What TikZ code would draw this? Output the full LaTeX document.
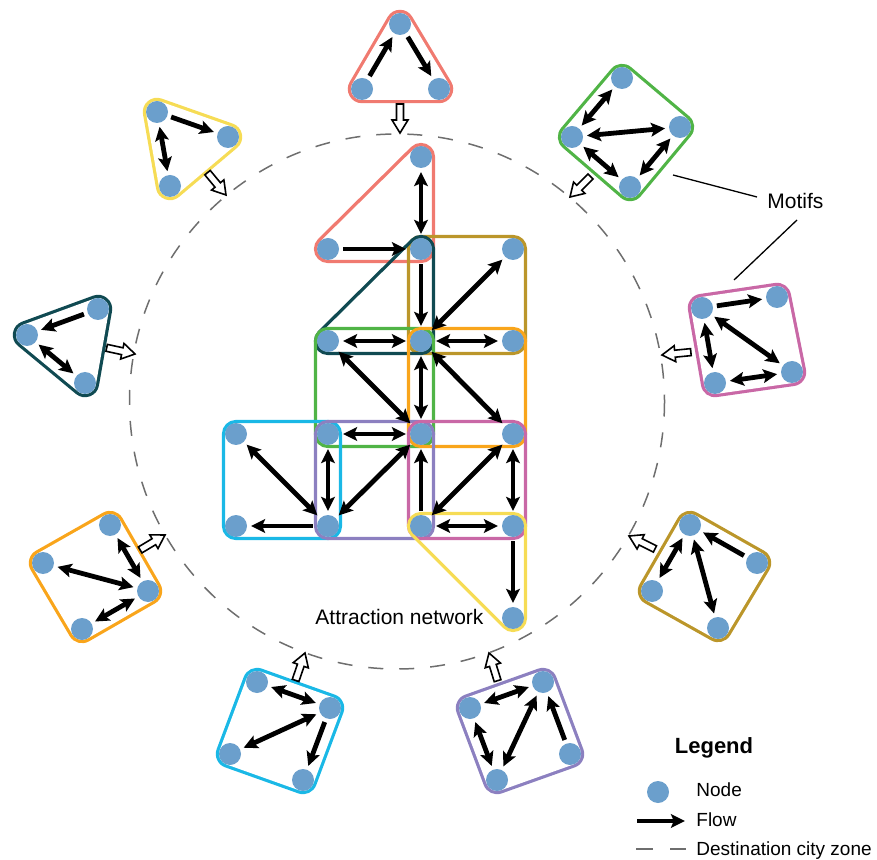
\documentclass[tikz,border=0pt]{standalone}
\usepackage{fontspec}
\setmainfont{Liberation Sans}
\usetikzlibrary{arrows.meta,calc}

\definecolor{nodeblue}{RGB}{107,159,204}
\definecolor{cRed}{RGB}{240,122,112}
\definecolor{cYellow}{RGB}{246,220,85}
\definecolor{cTeal}{RGB}{16,74,82}
\definecolor{cGreen}{RGB}{80,180,70}
\definecolor{cPink}{RGB}{201,104,166}
\definecolor{cOlive}{RGB}{187,150,42}
\definecolor{cOrange}{RGB}{249,165,27}
\definecolor{cCyan}{RGB}{26,184,230}
\definecolor{cPurple}{RGB}{140,128,192}
\definecolor{dashgray}{RGB}{110,110,110}

\pgfdeclarelayer{background}
\pgfsetlayers{background,main}

% rounded ring around a convex group of nodes (stand-alone motifs)
\newcommand\motifring[2]{%
  \draw[#1, line width=14.2pt, line join=round] #2;
  \draw[white, fill=white, line width=11pt, line join=round] #2;}

\def\rr{12.5}
\def\dd{8.84}

\begin{document}
\begin{tikzpicture}[x=0.5pt,y=-0.5pt,
  >={Stealth[length=7pt,width=6.8pt,inset=1.4pt]},
  vertex/.style={circle, fill=nodeblue, minimum size=11pt, inner sep=0pt, outer sep=0pt},
  flow/.style={line width=2.4pt, ->, shorten >=2pt, shorten <=2pt},
  biflow/.style={flow, <->},
  boxline/.style={line width=1.6pt, line join=round},
  label/.style={inner sep=0pt, font=\fontsize{10.5}{12}\selectfont},
  legitem/.style={inner sep=0pt, anchor=base west, font=\fontsize{9.5}{11}\selectfont},
  zone/.style={dashgray, line width=0.75pt},
  hollowarrow/.pic={\draw[line width=0.8pt, fill=white, line join=miter]
     (0,0) -- (-13,-8) -- (-13,-3.5) -- (-29,-3.5) -- (-29,3.5) -- (-13,3.5) -- (-13,8) -- cycle;}
]
\useasboundingbox (0,0) rectangle (877,860);

% ---------- attraction network ----------
\node[vertex] (A) at (421,157) {};
\node[vertex] (B) at (328,249) {};
\node[vertex] (C) at (421,249) {};
\node[vertex] (D) at (513,249) {};
\node[vertex] (E) at (328,341) {};
\node[vertex] (F) at (421,341) {};
\node[vertex] (G) at (513,341) {};
\node[vertex] (H) at (236,434) {};
\node[vertex] (I) at (328,434) {};
\node[vertex] (J) at (421,434) {};
\node[vertex] (K) at (513,434) {};
\node[vertex] (L) at (236,526) {};
\node[vertex] (M) at (328,526) {};
\node[vertex] (N) at (421,526) {};
\node[vertex] (O) at (513,526) {};
\node[vertex] (P) at (513,618) {};

\draw[biflow] (A) -- (C);
\draw[flow] (B) -- (C);
\draw[flow] (C) -- (F);
\draw[biflow] (D) -- (F);
\draw[biflow] (E) -- (F);
\draw[biflow] (F) -- (G);
\draw[biflow] (E) -- (J);
\draw[biflow] (F) -- (J);
\draw[biflow] (F) -- (K);
\draw[biflow] (I) -- (J);
\draw[biflow] (H) -- (M);
\draw[biflow] (I) -- (M);
\draw[flow] (M) -- (L);
\draw[biflow] (J) -- (M);
\draw[flow] (N) -- (J);
\draw[biflow] (N) -- (K);
\draw[biflow] (K) -- (O);
\draw[biflow] (N) -- (O);
\draw[flow] (O) -- (P);

\node[label, anchor=base west] (attr) at (315,624) {Attraction network};

% ---------- motifs around the zone ----------
% top triangle
\node[vertex] (r1) at (400,24) {};
\node[vertex] (r2) at (362,89) {};
\node[vertex] (r3) at (439,89) {};
\draw[flow] (r2) -- (r1);
\draw[flow] (r1) -- (r3);
% upper-left triangle
\node[vertex] (y1) at (157,112) {};
\node[vertex] (y2) at (228,137) {};
\node[vertex] (y3) at (170,186) {};
\draw[flow] (y1) -- (y2);
\draw[biflow] (y1) -- (y3);
% left triangle
\node[vertex] (t1) at (98,309) {};
\node[vertex] (t2) at (27,335) {};
\node[vertex] (t3) at (85,383) {};
\draw[flow] (t1) -- (t2);
\draw[biflow] (t2) -- (t3);
% upper-right square
\node[vertex] (g1) at (622,78) {};
\node[vertex] (g2) at (680,127) {};
\node[vertex] (g3) at (630,187) {};
\node[vertex] (g4) at (572,137) {};
\draw[biflow] (g1) -- (g4);
\draw[biflow] (g4) -- (g2);
\draw[biflow] (g4) -- (g3);
\draw[biflow] (g2) -- (g3);
% right square
\node[vertex] (p1) at (702,308) {};
\node[vertex] (p2) at (777,297) {};
\node[vertex] (p3) at (792,372) {};
\node[vertex] (p4) at (715,383) {};
\draw[flow] (p1) -- (p2);
\draw[biflow] (p1) -- (p3);
\draw[biflow] (p1) -- (p4);
\draw[biflow] (p4) -- (p3);
% lower-left square
\node[vertex] (o1) at (110,525) {};
\node[vertex] (o2) at (148,591) {};
\node[vertex] (o3) at (82,629) {};
\node[vertex] (o4) at (43,563) {};
\draw[biflow] (o1) -- (o2);
\draw[biflow] (o4) -- (o2);
\draw[biflow] (o3) -- (o2);
% bottom-left square
\node[vertex] (c1) at (257,682) {};
\node[vertex] (c2) at (330,708) {};
\node[vertex] (c3) at (303,780) {};
\node[vertex] (c4) at (230,754) {};
\draw[biflow] (c1) -- (c2);
\draw[biflow] (c2) -- (c4);
\draw[flow] (c2) -- (c3);
% lower-right square
\node[vertex] (v1) at (690,525) {};
\node[vertex] (v2) at (757,563) {};
\node[vertex] (v3) at (718,628) {};
\node[vertex] (v4) at (652,591) {};
\draw[flow] (v2) -- (v1);
\draw[biflow] (v1) -- (v4);
\draw[biflow] (v1) -- (v3);
% bottom-right square
\node[vertex] (u1) at (543,682) {};
\node[vertex] (u2) at (570,754) {};
\node[vertex] (u3) at (497,780) {};
\node[vertex] (u4) at (470,708) {};
\draw[biflow] (u4) -- (u1);
\draw[biflow] (u4) -- (u3);
\draw[biflow] (u3) -- (u1);
\draw[flow] (u2) -- (u1);

% hollow arrows pointing at the zone boundary
\pic[rotate=-90] at (400,133) {hollowarrow};
\pic[rotate=-50.4] at (226,195) {hollowarrow};
\pic[rotate=-12.3] at (135,354) {hollowarrow};
\pic[rotate=-135] at (570,197) {hollowarrow};
\pic[rotate=-174.3] at (662,355) {hollowarrow};
\pic[rotate=31] at (165,535) {hollowarrow};
\pic[rotate=71] at (305,653) {hollowarrow};
\pic[rotate=153.4] at (629,536) {hollowarrow};
\pic[rotate=107.2] at (489,653) {hollowarrow};

% Motifs label
\node[label, anchor=base west] (motifs) at (767,209) {Motifs};
\coordinate (ma) at (673,175);
\coordinate (mb) at (757,197);
\coordinate (mc) at (797,220);
\coordinate (md) at (734,280);
\draw[line width=0.65pt] (ma) -- (mb);
\draw[line width=0.65pt] (mc) -- (md);

% ---------- legend ----------
\node[inner sep=0pt, anchor=base, font=\fontsize{11}{13}\selectfont\bfseries] (legend) at (714,753) {Legend};
\node[vertex] (legnode) at (658,792) {};
\node[legitem] (lnode) at (696,796.5) {Node};
\coordinate (fa) at (637,821);
\coordinate (fb) at (685,821);
\draw[line width=2.4pt, ->] (fa) -- (fb);
\node[legitem] (lflow) at (696,826) {Flow};
\coordinate (da) at (636,849);
\coordinate (db) at (686,849);
\draw[zone, dash pattern=on 8.5pt off 8.5pt] (da) -- (db);
\node[legitem] (lzone) at (696,855) {Destination city zone};

% ---------- outlines behind everything ----------
\begin{pgfonlayer}{background}
  \draw[zone, dash pattern=on 7.5pt off 8pt] (397,401.5) circle[radius=267.5];

  \motifring{cRed}{(r1.center) -- (r3.center) -- (r2.center) -- cycle}
  \motifring{cYellow}{(y1.center) -- (y2.center) -- (y3.center) -- cycle}
  \motifring{cTeal}{(t1.center) -- (t3.center) -- (t2.center) -- cycle}
  \motifring{cGreen}{(g1.center) -- (g2.center) -- (g3.center) -- (g4.center) -- cycle}
  \motifring{cPink}{(p1.center) -- (p2.center) -- (p3.center) -- (p4.center) -- cycle}
  \motifring{cOrange}{(o1.center) -- (o2.center) -- (o3.center) -- (o4.center) -- cycle}
  \motifring{cCyan}{(c1.center) -- (c2.center) -- (c3.center) -- (c4.center) -- cycle}
  \motifring{cOlive}{(v1.center) -- (v2.center) -- (v3.center) -- (v4.center) -- cycle}
  \motifring{cPurple}{(u1.center) -- (u2.center) -- (u3.center) -- (u4.center) -- cycle}

  % groups inside the attraction network
  \draw[boxline, cRed] ($(A)+(\rr,0)$) -- ($(C)+(\rr,0)$) arc[start angle=0,end angle=90,radius=\rr]
     -- ($(B)+(0,\rr)$) arc[start angle=90,end angle=225,radius=\rr]
     -- ($(A)+(-\dd,-\dd)$) arc[start angle=225,end angle=360,radius=\rr] -- cycle;
  \draw[boxline, cOlive, rounded corners=6.25pt] ($(C)+(-\rr,-\rr)$) rectangle ($(G)+(\rr,\rr)$);
  \draw[boxline, cTeal] ($(C)+(\rr,0)$) -- ($(F)+(\rr,0)$) arc[start angle=0,end angle=90,radius=\rr]
     -- ($(E)+(0,\rr)$) arc[start angle=90,end angle=225,radius=\rr]
     -- ($(C)+(-\dd,-\dd)$) arc[start angle=225,end angle=360,radius=\rr] -- cycle;
  \draw[boxline, cGreen, rounded corners=6.25pt] ($(E)+(-\rr,-\rr)$) rectangle ($(J)+(\rr,\rr)$);
  \draw[boxline, cOrange, rounded corners=6.25pt] ($(F)+(-\rr,-\rr)$) rectangle ($(K)+(\rr,\rr)$);
  \draw[boxline, cCyan, rounded corners=6.25pt] ($(H)+(-\rr,-\rr)$) rectangle ($(M)+(\rr,\rr)$);
  \draw[boxline, cPurple, rounded corners=6.25pt] ($(I)+(-\rr,-\rr)$) rectangle ($(N)+(\rr,\rr)$);
  \draw[boxline, cPink, rounded corners=6.25pt] ($(J)+(-\rr,-\rr)$) rectangle ($(O)+(\rr,\rr)$);
  \draw[boxline, cYellow] ($(N)+(0,-\rr)$) -- ($(O)+(0,-\rr)$) arc[start angle=270,end angle=360,radius=\rr]
     -- ($(P)+(\rr,0)$) arc[start angle=0,end angle=135,radius=\rr]
     -- ($(N)+(-\dd,\dd)$) arc[start angle=135,end angle=270,radius=\rr] -- cycle;
\end{pgfonlayer}
\end{tikzpicture}
\end{document}
